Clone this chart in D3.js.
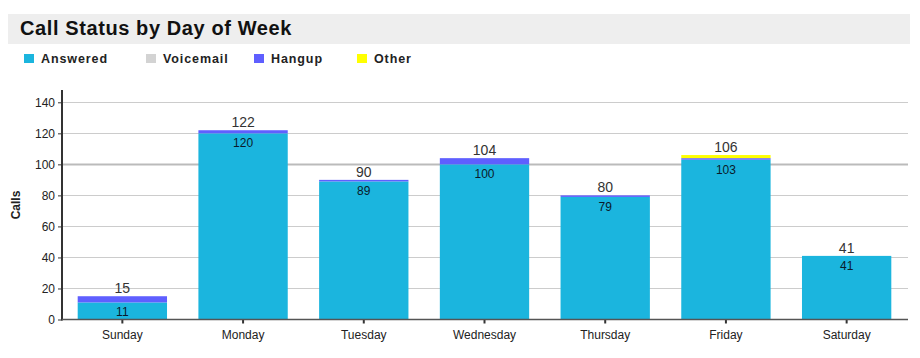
<!DOCTYPE html>
<html><head><meta charset="utf-8">
<script src="https://cdn.jsdelivr.net/npm/d3@7/dist/d3.min.js"></script>
<style>body{margin:0;background:#fff;} svg{display:block;font-family:"Liberation Sans",Arial,sans-serif;}</style>
</head><body><svg id="c" width="920" height="358"></svg>
<script>
const days = ["Sunday","Monday","Tuesday","Wednesday","Thursday","Friday","Saturday"];
const answered = [11,120,89,100,79,103,41];
const voicemail = [0,0,0,0,0,0,0];
const hangup = [4,2,1,4,1,1,0];
const other = [0,0,0,0,0,2,0];
const seriesNames = ["Answered","Voicemail","Hangup","Other"];
const seriesColors = ["#1bb5de","#d3d3d3","#5f5fff","#ffff00"];
const yTicks = [0,20,40,60,80,100,120,140];
const title = "Call Status by Day of Week";
const yLabel = "Calls";

const svg = d3.select("#c");
const m = {l:62, r:907, t:90, b:319.5};

// title band
svg.append("rect").attr("x",8).attr("y",14).attr("width",902).attr("height",30).attr("fill","#eeeeee");
svg.append("text").attr("x",20).attr("y",35).attr("font-size",20).attr("font-weight","bold").attr("letter-spacing",0.6).attr("fill","#111").text(title);

// legend
const legX = [24,146,254,357];
seriesNames.forEach((n,i)=>{
  svg.append("rect").attr("x",legX[i]).attr("y",54).attr("width",10).attr("height",9).attr("fill",seriesColors[i]);
  svg.append("text").attr("x",legX[i]+17).attr("y",63).attr("font-size",12.5).attr("letter-spacing",0.9).attr("font-weight","bold").attr("fill","#222").text(n);
});

const x = d3.scaleBand().domain(days).range([m.l, m.r]).paddingInner(0.26).paddingOuter(0.13);
const y = d3.scaleLinear().domain([0,140]).range([m.b, 102.3]);

// gridlines
svg.append("g").selectAll("line").data(yTicks.filter(t=>t>0)).join("line")
  .attr("x1",m.l).attr("x2",908).attr("y1",d=>Math.round(y(d))+0.5).attr("y2",d=>Math.round(y(d))+0.5)
  .attr("stroke",d=>d===100?"#bbbbbb":"#cccccc").attr("stroke-width",d=>d===100?2:1);

// stacked bars
const data = days.map((d,i)=>({day:d, Answered:answered[i], Voicemail:voicemail[i], Hangup:hangup[i], Other:other[i]}));
const stack = d3.stack().keys(seriesNames)(data);
svg.append("g").selectAll("g").data(stack).join("g").attr("fill",(d,i)=>seriesColors[i])
  .selectAll("rect").data(d=>d).join("rect")
  .attr("x",d=>x(d.data.day)).attr("width",x.bandwidth())
  .attr("y",d=>y(d[1])).attr("height",d=>y(d[0])-y(d[1]));

// labels
data.forEach((d,i)=>{
  const tot = answered[i]+voicemail[i]+hangup[i]+other[i];
  const cx = x(d.day)+x.bandwidth()/2;
  svg.append("text").attr("x",cx).attr("y",y(tot)-3).attr("text-anchor","middle").attr("font-size",14).attr("fill","#333").text(tot);
  svg.append("text").attr("x",cx).attr("y",y(answered[i])+14).attr("text-anchor","middle").attr("font-size",12).attr("fill","#0a1a2a").text(answered[i]);
});

// y axis
const ya = svg.append("g").attr("transform",`translate(${m.l},0)`)
  .call(d3.axisLeft(y).tickValues(yTicks).tickSize(4).tickSizeOuter(0));
ya.select(".domain").remove();
ya.selectAll("text").attr("font-size",12).attr("fill","#222").attr("font-family","Liberation Sans, Arial, sans-serif");
ya.selectAll("line").attr("stroke","#333");
svg.append("line").attr("x1",m.l).attr("x2",m.l).attr("y1",m.t).attr("y2",m.b+1).attr("stroke","#333").attr("stroke-width",2);

// x axis
const xa = svg.append("g").attr("transform",`translate(0,${m.b})`)
  .call(d3.axisBottom(x).tickSize(4).tickSizeOuter(0));
xa.select(".domain").remove();
xa.selectAll("text").attr("font-size",12).attr("fill","#222").attr("dy","1.05em").attr("font-family","Liberation Sans, Arial, sans-serif");
xa.selectAll("line").attr("stroke","#333").attr("stroke-width",2);
svg.append("line").attr("x1",m.l).attr("x2",908).attr("y1",m.b).attr("y2",m.b).attr("stroke","#555").attr("stroke-width",1.5);

// y label
svg.append("text").attr("transform","translate(20,205) rotate(-90)").attr("text-anchor","middle")
  .attr("font-size",12).attr("font-weight","bold").attr("fill","#222").text(yLabel);
</script></body></html>
